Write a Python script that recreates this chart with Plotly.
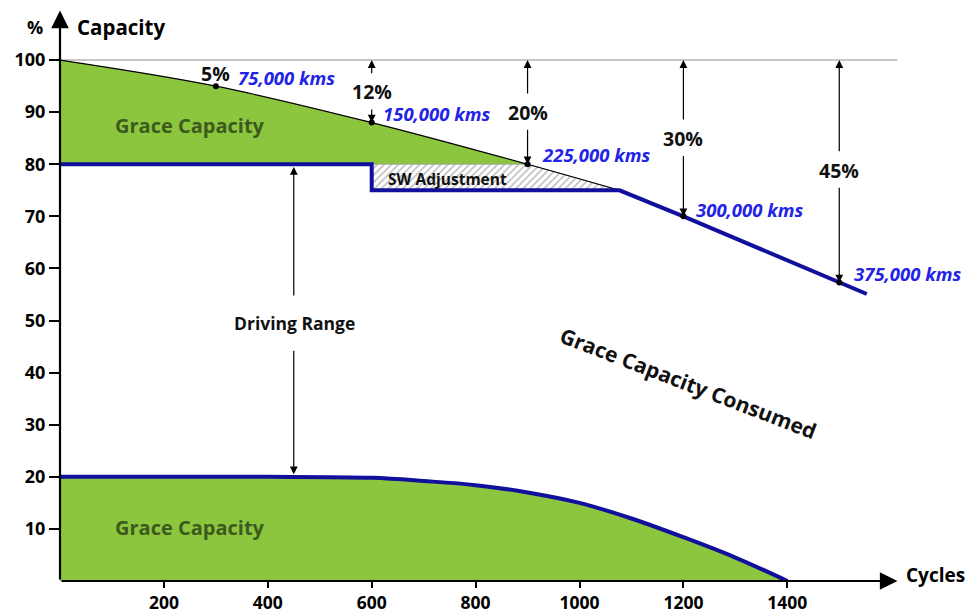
import plotly.graph_objects as go

# ---------------- data ----------------
grace_curve_cycles = [0, 300, 600, 900, 1077]
grace_curve_capacity = [100, 95, 88, 80, 75]

range_cycles = [0, 600, 600, 1077, 1200, 1500, 1553]
range_capacity = [80, 80, 75, 75, 70, 57.3, 55.1]

sw_cycles = [600, 900, 1077]
sw_top = [80, 80, 75]
sw_bottom = [75, 75, 75]

milestone_cycles = [300, 600, 900, 1200, 1500]
milestone_capacity = [95, 88, 80, 70, 57.3]
milestone_pct = ["5%", "12%", "20%", "30%", "45%"]
milestone_kms = ["75,000 kms", "150,000 kms", "225,000 kms", "300,000 kms", "375,000 kms"]
pct_label_y = [97.5, 93.9, 90.0, 85.0, 78.9]
kms_label_x = [339, 618, 924, 1220, 1525]
kms_label_y = [96.6, 89.7, 81.8, 71.4, 59.1]

reserve_cycles = [0, 200, 400, 600, 700, 800, 900, 1000, 1100, 1200, 1300, 1400]
reserve_capacity = [20, 20, 20, 19.8, 19.2, 18.4, 17, 15, 12.0, 8.4, 4.5, 0]

full_capacity_x = [0, 1612]
full_capacity_y = [100, 100]

x_ticks = [200, 400, 600, 800, 1000, 1200, 1400]
y_ticks = [10, 20, 30, 40, 50, 60, 70, 80, 90, 100]

driving_range_x = 450

# ---------------- style ----------------
GREEN = "#8cc63f"
DARK_GREEN = "#3d5a1e"
NAVY = "#10109c"
KMS_BLUE = "#2323e6"
FONT = "Open Sans"

fig = go.Figure()

# full-capacity reference line
fig.add_trace(go.Scatter(x=full_capacity_x, y=full_capacity_y, mode="lines",
                         line=dict(color="#c8c8c8", width=2), hoverinfo="skip"))

# upper grace capacity fill (between curve and 80 line)
fig.add_trace(go.Scatter(x=[grace_curve_cycles[0], grace_curve_cycles[3]],
                         y=[range_capacity[0], range_capacity[0]], mode="lines",
                         line=dict(width=0, color=GREEN), hoverinfo="skip"))
fig.add_trace(go.Scatter(x=grace_curve_cycles[:4], y=grace_curve_capacity[:4], mode="lines",
                         line=dict(width=0, color=GREEN, shape="spline"),
                         fill="tonexty", fillcolor=GREEN, hoverinfo="skip"))

# SW adjustment hatched area
fig.add_trace(go.Scatter(x=sw_cycles, y=sw_bottom, mode="lines",
                         line=dict(width=0, color="#999"), hoverinfo="skip"))
fig.add_trace(go.Scatter(x=sw_cycles, y=sw_top, mode="lines",
                         line=dict(width=0.8, color="#999999"),
                         fill="tonexty", fillcolor="white",
                         fillpattern=dict(shape="/", fgcolor="#777777", bgcolor="#ffffff",
                                          size=5, solidity=0.3),
                         hoverinfo="skip"))

# nominal capacity curve (thin black)
fig.add_trace(go.Scatter(x=grace_curve_cycles, y=grace_curve_capacity, mode="lines",
                         line=dict(color="black", width=1.2, shape="spline"), hoverinfo="skip"))

# driving range boundary (blue)
fig.add_trace(go.Scatter(x=range_cycles, y=range_capacity, mode="lines",
                         line=dict(color=NAVY, width=4), hoverinfo="skip"))

# bottom grace capacity
fig.add_trace(go.Scatter(x=reserve_cycles, y=reserve_capacity, mode="lines",
                         line=dict(color=NAVY, width=4, shape="spline", smoothing=1),
                         fill="tozeroy", fillcolor=GREEN, hoverinfo="skip"))

# milestone dots
fig.add_trace(go.Scatter(x=milestone_cycles, y=milestone_capacity, mode="markers",
                         marker=dict(color="black", size=6), hoverinfo="skip"))

annotations = []

def arrow(x, y, ax, ay, width=1.2, size=1.3):
    annotations.append(dict(x=x, y=y, ax=ax, ay=ay, xref="x", yref="y", axref="x", ayref="y",
                            text="", showarrow=True, arrowhead=2, arrowsize=size,
                            arrowwidth=width, arrowcolor="black", standoff=0, startstandoff=0))

# axes drawn as arrows
arrow(1612, 0, 0, 0, width=2.2, size=1.6)
arrow(0, 109.5, 0, 0, width=2.2, size=1.6)

# percentage arrows
for i, (cx, cy, ly, pct) in enumerate(zip(milestone_cycles, milestone_capacity, pct_label_y, milestone_pct)):
    annotations.append(dict(x=cx, y=ly, xref="x", yref="y", text="<b>" + pct + "</b>", showarrow=False,
                            font=dict(family=FONT, size=19.5, color="#111"),
                            xanchor="center", yanchor="middle"))
    if i > 0:
        arrow(cx, 100, cx, ly + 3.3)
        arrow(cx, cy, cx, ly - 3.1)

for kx, ky, t in zip(kms_label_x, kms_label_y, milestone_kms):
    annotations.append(dict(x=kx, y=ky, xref="x", yref="y",
                            text="<b><i>" + t + "</i></b>", showarrow=False,
                            font=dict(family=FONT, size=18.5, color=KMS_BLUE),
                            xanchor="left", yanchor="middle"))

# driving range arrows
arrow(driving_range_x, 79.5, driving_range_x, 54.5)
arrow(driving_range_x, 20.5, driving_range_x, 44.5)

text_items = [
    ("Grace Capacity", 250, 87.5, DARK_GREEN, 20, 0),
    ("Grace Capacity", 250, 10.2, DARK_GREEN, 20, 0),
    ("Driving Range", 452, 49.5, "#111", 17.5, 0),
    ("Grace Capacity Consumed", 1209, 38.0, "#111", 21, 21),
    ("SW Adjustment", 745, 77.2, "#111", 15.5, 0),
]
for t, x, y, c, s, ang in text_items:
    annotations.append(dict(x=x, y=y, xref="x", yref="y", text="<b>" + t + "</b>",
                            showarrow=False, textangle=ang,
                            font=dict(family=FONT, size=s, color=c),
                            xanchor="center", yanchor="middle"))

# axis titles
annotations.append(dict(x=-0.029, y=0.967, xref="paper", yref="paper", text="<b>%</b>",
                        showarrow=False, font=dict(family=FONT, size=18, color="black"),
                        xanchor="center", yanchor="middle"))
annotations.append(dict(x=0.0176, y=0.967, xref="paper", yref="paper", text="<b>Capacity</b>",
                        showarrow=False, font=dict(family=FONT, size=20.5, color="black"),
                        xanchor="left", yanchor="middle"))
annotations.append(dict(x=0.991, y=0.011, xref="paper", yref="paper", text="<b>Cycles</b>",
                        showarrow=False, font=dict(family=FONT, size=19, color="black"),
                        xanchor="left", yanchor="middle"))

# the page body adds an 8px offset, so the figure is 8px smaller and margins compensate
fig.update_layout(
    width=966, height=606,
    margin=dict(l=52, r=62, t=0, b=33, autoexpand=False),
    paper_bgcolor="white", plot_bgcolor="white",
    showlegend=False,
    annotations=annotations,
    xaxis=dict(range=[0, 1640], tickvals=x_ticks, ticktext=[str(v) for v in x_ticks],
               ticks="outside", ticklen=6, tickwidth=1.5, tickcolor="black", automargin=False,
               showgrid=False, zeroline=False, showline=False,
               tickfont=dict(family=FONT, size=17.5, color="black", weight="bold")),
    yaxis=dict(range=[0, 110], tickvals=y_ticks, ticktext=[str(v) for v in y_ticks],
               ticks="outside", ticklen=10, tickwidth=1.5, tickcolor="black", automargin=False,
               showgrid=False, zeroline=False, showline=False,
               tickfont=dict(family=FONT, size=18, color="black", weight="bold")),
)

fig.write_html("out.html")
